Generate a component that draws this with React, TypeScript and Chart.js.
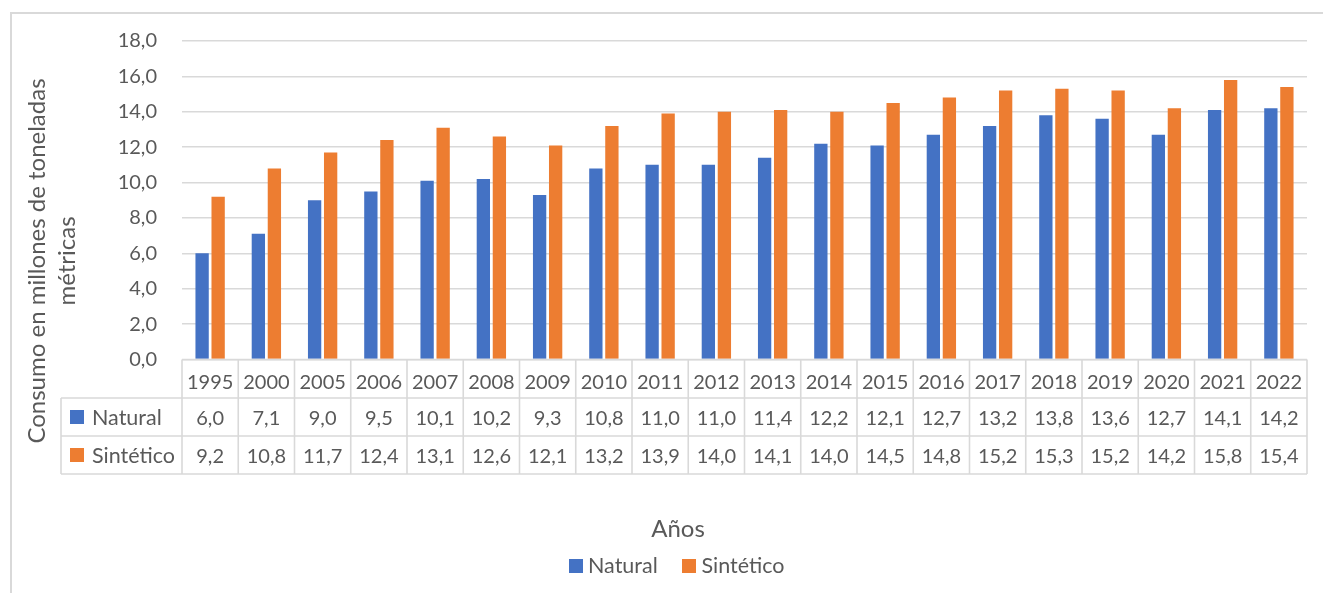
import React, { useEffect, useRef } from "react";
import { Chart, registerables } from "chart.js";

Chart.register(...registerables);

const categories = [
  "1995", "2000", "2005", "2006", "2007", "2008", "2009", "2010", "2011", "2012",
  "2013", "2014", "2015", "2016", "2017", "2018", "2019", "2020", "2021", "2022",
];
const naturalValues = [
  6.0, 7.1, 9.0, 9.5, 10.1, 10.2, 9.3, 10.8, 11.0, 11.0,
  11.4, 12.2, 12.1, 12.7, 13.2, 13.8, 13.6, 12.7, 14.1, 14.2,
];
const sinteticoValues = [
  9.2, 10.8, 11.7, 12.4, 13.1, 12.6, 12.1, 13.2, 13.9, 14.0,
  14.1, 14.0, 14.5, 14.8, 15.2, 15.3, 15.2, 14.2, 15.8, 15.4,
];
const seriesNames = ["Natural", "Sintético"];
const seriesColors = ["#4472C4", "#ED7D31"];
const yTitleLines = ["Consumo en millones de toneladas", "métricas"];
const xTitle = "Años";
const yMin = 0;
const yMax = 18;
const yStep = 2;

const FONT = "Lato, 'Open Sans', sans-serif";
const TEXT = "#595959";
const LINE = "#d9d9d9";

const fmt = (v: number) => v.toFixed(1).replace(".", ",");

const decorPlugin = {
  id: "excelDecor",
  afterDraw(chart: any) {
    const { ctx, chartArea } = chart;
    const xs = chart.scales.x;
    const n = categories.length;
    const cw = (chartArea.right - chartArea.left) / n;
    const top = chartArea.bottom;
    const r1 = top + 38.5;
    const r2 = r1 + 38;
    const r3 = r2 + 38;
    const tableLeft = 61;
    const right = chartArea.right;

    ctx.save();
    // outer frame
    ctx.strokeStyle = LINE;
    ctx.lineWidth = 2;
    ctx.beginPath();
    ctx.moveTo(11, 2000);
    ctx.lineTo(11, 13);
    ctx.lineTo(3000, 13);
    ctx.stroke();

    // table lines
    ctx.lineWidth = 1.6;
    ctx.beginPath();
    ctx.moveTo(chartArea.left, top);
    ctx.lineTo(right, top);
    [r1, r2, r3].forEach((y) => {
      ctx.moveTo(tableLeft, y);
      ctx.lineTo(right, y);
    });
    ctx.moveTo(tableLeft, r1);
    ctx.lineTo(tableLeft, r3);
    for (let i = 0; i < n; i++) {
      const bx = xs.getPixelForValue(i) - cw / 2;
      ctx.moveTo(bx, top);
      ctx.lineTo(bx, r3);
    }
    const lastX = xs.getPixelForValue(n - 1) + cw / 2;
    ctx.moveTo(lastX, top);
    ctx.lineTo(lastX, r3);
    ctx.stroke();

    // table text
    ctx.fillStyle = TEXT;
    ctx.font = `20px ${FONT}`;
    ctx.textAlign = "center";
    ctx.textBaseline = "alphabetic";
    const rowsData = [naturalValues, sinteticoValues];
    for (let i = 0; i < n; i++) {
      const cx = xs.getPixelForValue(i);
      ctx.fillText(categories[i], cx, top + 29);
      ctx.fillText(fmt(rowsData[0][i]), cx, r1 + 26.5);
      ctx.fillText(fmt(rowsData[1][i]), cx, r2 + 26.5);
    }
    // row legend keys
    ctx.textAlign = "left";
    ctx.font = `21.5px ${FONT}`;
    [r1, r2].forEach((ry, k) => {
      ctx.fillStyle = seriesColors[k];
      ctx.fillRect(70, ry + 12, 14, 14);
      ctx.fillStyle = TEXT;
      ctx.fillText(seriesNames[k], 92, ry + 26.5);
    });

    // x title
    ctx.textAlign = "center";
    ctx.font = `24px ${FONT}`;
    ctx.fillText(xTitle, 678, 537);

    // y title rotated
    ctx.save();
    ctx.translate(45, 261);
    ctx.rotate(-Math.PI / 2);
    ctx.fillText(yTitleLines[0], 0, 0);
    ctx.fillText(yTitleLines[1], 0, 30);
    ctx.restore();

    // bottom legend
    ctx.font = `21.5px ${FONT}`;
    ctx.textAlign = "left";
    const legendItems = [
      { sq: 569, tx: 588 },
      { sq: 682, tx: 701.5 },
    ];
    legendItems.forEach((it, k) => {
      ctx.fillStyle = seriesColors[k];
      ctx.fillRect(it.sq, 559, 14, 14);
      ctx.fillStyle = TEXT;
      ctx.fillText(seriesNames[k], it.tx, 572.5);
    });
    ctx.restore();
  },
};

export default function App() {
  const ref = useRef<HTMLCanvasElement | null>(null);

  useEffect(() => {
    document.body.style.margin = "0";
    if (!ref.current) return;
    const chart = new Chart(ref.current, {
      type: "bar",
      data: {
        labels: categories,
        datasets: [
          {
            label: seriesNames[0],
            data: naturalValues,
            backgroundColor: seriesColors[0],
            barPercentage: 0.83,
            categoryPercentage: 0.57,
          },
          {
            label: seriesNames[1],
            data: sinteticoValues,
            backgroundColor: seriesColors[1],
            barPercentage: 0.83,
            categoryPercentage: 0.57,
          },
        ],
      },
      options: {
        animation: false,
        responsive: false,
        layout: { padding: { left: 0, top: 41, right: 16, bottom: 233.5 } },
        plugins: {
          legend: { display: false },
          tooltip: { enabled: false },
          title: { display: false },
        },
        scales: {
          x: { display: false },
          y: {
            min: yMin,
            max: yMax,
            ticks: {
              stepSize: yStep,
              padding: 25,
              color: TEXT,
              font: { family: FONT, size: 20 },
              callback: (v: any) => fmt(Number(v)),
            },
            grid: { color: LINE, lineWidth: 1.6, drawTicks: false },
            border: { display: false },
            afterFit: (scale: any) => {
              scale.width = 182;
            },
          },
        },
      },
      plugins: [decorPlugin],
    });
    let alive = true;
    if ((document as any).fonts) {
      (document as any).fonts.load(`20px Lato`).then(() => {
        if (alive) chart.update();
      });
    }
    return () => {
      alive = false;
      chart.destroy();
    };
  }, []);

  return <canvas ref={ref} width={1323} height={593} style={{ display: "block" }} />;
}
